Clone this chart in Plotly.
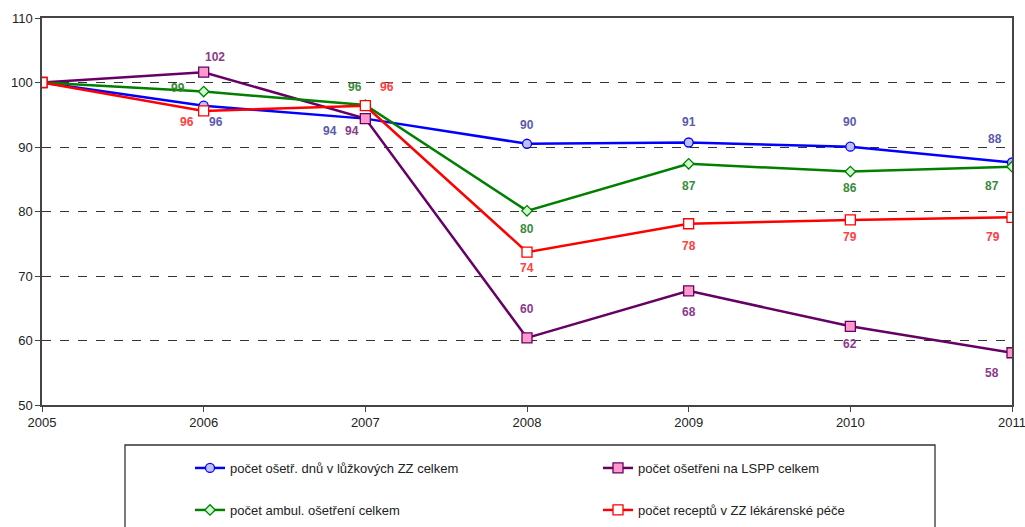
import plotly.graph_objects as go

# Index values (2005 = 100)
years = [2005, 2006, 2007, 2008, 2009, 2010, 2011]
names = [
    "počet ošetř. dnů v lůžkových ZZ celkem",
    "počet ošetřeni na LSPP celkem",
    "počet ambul. ošetření celkem",
    "počet receptů v ZZ lékárenské péče",
]
bed_days = [100, 96.4, 94.4, 90.5, 90.7, 90.05, 87.6]
lspp = [100, 101.6, 94.4, 60.4, 67.7, 62.2, 58.1]
ambul = [100, 98.6, 96.5, 80.1, 87.4, 86.2, 86.95]
recipes = [100, 95.6, 96.4, 73.7, 78.1, 78.7, 79.1]

# label offsets (px) for points 2006..2011
bed_off = [(12, -16), (-35, -12), (0, 19), (0, 20), (0, 25), (-17, 23)]
lspp_off = [(11, 15), (-13, -12), (0, 29), (0, -21), (0, -18), (-20, -20)]
ambul_off = [(-26, 4), (-10, 18), (0, -18), (0, -22), (0, -16), (-20, -19)]
recipes_off = [(-17, -11), (22, 19), (0, -16), (0, -22), (0, -17), (-19, -20)]

series = [
    (names[0], bed_days, "#0000ff", "circle", 9, "#c0c0ff", "#0000ff", "#5a5aaa", bed_off, "legend"),
    (names[1], lspp, "#660066", "square", 10, "#ff99cc", "#660066", "#8b3a8b", lspp_off, "legend"),
    (names[2], ambul, "#008000", "diamond", 8, "#ccffcc", "#008000", "#3a8a3a", ambul_off, "legend2"),
    (names[3], recipes, "#ff0000", "square", 10, "#ffffff", "#ff0000", "#ff4040", recipes_off, "legend2"),
]

fig = go.Figure()
annotations = []
for name, vals, color, sym, size, fill, edge, lab_color, offs, leg in series:
    fig.add_trace(go.Scatter(
        x=years, y=vals, name=name, mode="lines+markers",
        line=dict(color=color, width=2.5),
        marker=dict(symbol=sym, size=size, color=fill, line=dict(color=edge, width=1.3)),
        legend=leg,
    ))
    for yr, v, (dx, dy) in zip(years[1:], vals[1:], offs):
        annotations.append(dict(
            x=yr, y=v, xref="x", yref="y", text=f"<b>{round(v)}</b>",
            showarrow=False, xshift=dx, yshift=dy,
            font=dict(family="Liberation Sans, Arial", size=12, color=lab_color),
        ))

axis_common = dict(
    showline=True, linecolor="#444444", linewidth=1.5, mirror=True,
    ticks="outside", ticklen=5, tickcolor="#444444", automargin=False,
    tickfont=dict(family="Liberation Sans, Arial", size=13, color="#222222"),
)

fig.update_layout(
    width=1025, height=527,
    margin=dict(l=42, r=13, t=18, b=122, autoexpand=False),
    paper_bgcolor="white", plot_bgcolor="white",
    font=dict(family="Liberation Sans, Arial", size=13, color="#222222"),
    xaxis=dict(range=[2005, 2011], tickvals=years, ticktext=[str(y) for y in years],
               showgrid=False, zeroline=False, ticklabeloverflow="allow", **axis_common),
    yaxis=dict(range=[50, 110], dtick=10, showgrid=True, gridcolor="#333333",
               griddash="dash", gridwidth=1, zeroline=False, **axis_common),
    legend=dict(orientation="h", x=190 / 1025, y=1 - 453 / 527, xanchor="left", yanchor="top",
                xref="container", yref="container", entrywidth=363, entrywidthmode="pixels",
                bgcolor="rgba(0,0,0,0)", font=dict(size=13, color="#222222")),
    legend2=dict(orientation="h", x=190 / 1025, y=1 - 495 / 527, xanchor="left", yanchor="top",
                 xref="container", yref="container", entrywidth=363, entrywidthmode="pixels",
                 bgcolor="rgba(0,0,0,0)", font=dict(size=13, color="#222222")),
    annotations=annotations,
    shapes=[dict(type="rect", xref="paper", yref="paper",
                 x0=(125 - 42) / 970, x1=(935 - 42) / 970,
                 y0=(405 - 560) / 387, y1=(405 - 445) / 387,
                 line=dict(color="#333333", width=1.3), fillcolor="rgba(0,0,0,0)",
                 layer="below")],
)

fig.write_html("out.html")
